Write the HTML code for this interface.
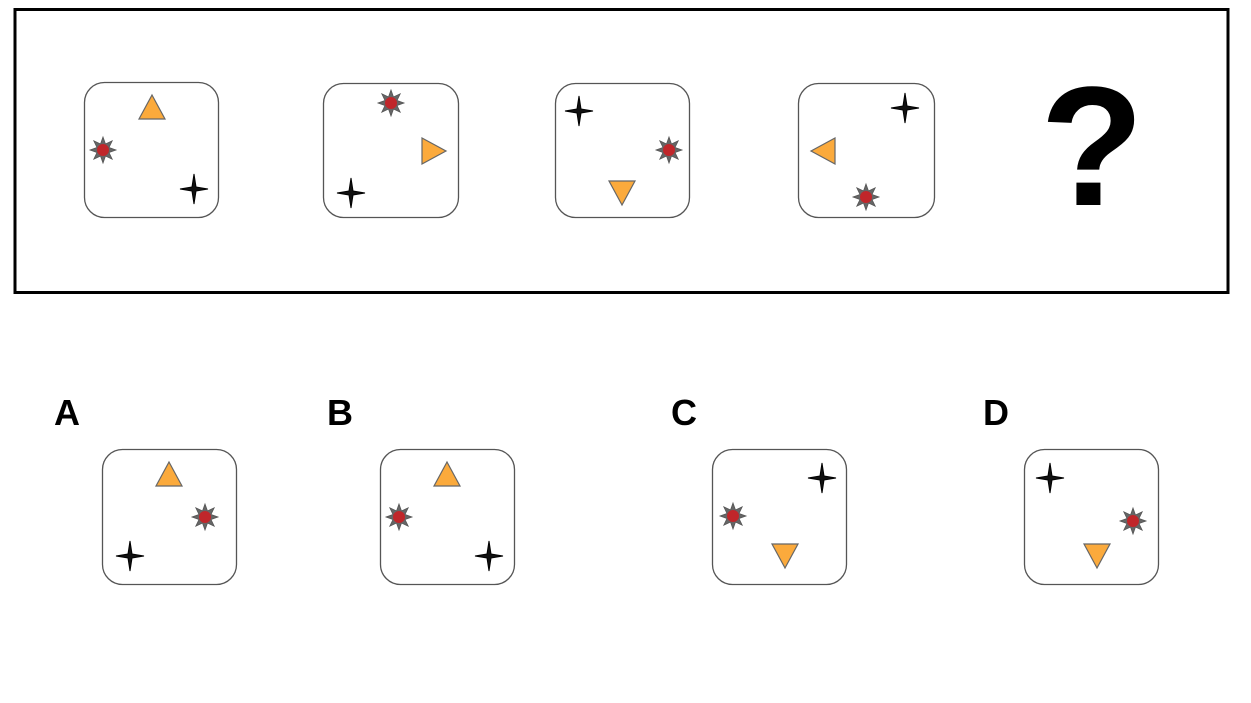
<!DOCTYPE html>
<html><head><style>body{margin:0;background:#fff}svg{display:block}</style></head><body>
<svg width="1251" height="703" xmlns="http://www.w3.org/2000/svg">
<defs>
<g id="s8"><polygon points="0,-13 2.5,-6 9.2,-9.2 6,-2.5 13,0 6,2.5 9.2,9.2 2.5,6 0,13 -2.5,6 -9.2,9.2 -6,2.5 -13,0 -6,-2.5 -9.2,-9.2 -2.5,-6" fill="#666" stroke="#555" stroke-width="0.8"/><circle r="6" fill="#c0262a"/></g>
<g id="s4"><polygon points="0,-15 2,-2 14,0 2,2 0,15 -2,2 -14,0 -2,-2" fill="#111" stroke="#000" stroke-width="1"/></g>
<g id="tu"><polygon points="0,-12 13,12 -13,12" fill="#fbaa3c" stroke="#666" stroke-width="1.2"/></g>
</defs>
<rect x="15" y="9.5" width="1213" height="283" fill="none" stroke="#000" stroke-width="3"/>
<g fill="#fff" stroke="#555" stroke-width="1.3">
<rect x="84.5" y="82.5" width="134" height="135" rx="20"/>
<rect x="323.5" y="83.5" width="135" height="134" rx="20"/>
<rect x="555.5" y="83.5" width="134" height="134" rx="20"/>
<rect x="798.5" y="83.5" width="136" height="134" rx="20"/>
<rect x="102.5" y="449.5" width="134" height="135" rx="20"/>
<rect x="380.5" y="449.5" width="134" height="135" rx="20"/>
<rect x="712.5" y="449.5" width="134" height="135" rx="20"/>
<rect x="1024.5" y="449.5" width="134" height="135" rx="20"/>
</g>
<use href="#tu" x="152" y="107"/><use href="#s8" x="103" y="150"/><use href="#s4" x="194" y="189"/>
<use href="#s8" x="391" y="103"/><use href="#tu" transform="translate(434,151) rotate(90)"/><use href="#s4" x="351" y="193"/>
<use href="#s4" x="579" y="111"/><use href="#s8" x="669" y="150"/><use href="#tu" transform="translate(622,193) rotate(180)"/>
<use href="#s4" x="905" y="108"/><use href="#tu" transform="translate(823,151) rotate(-90)"/><use href="#s8" x="866" y="197"/>
<text x="1092" y="205" font-family="Liberation Sans, sans-serif" font-weight="bold" font-size="170" text-anchor="middle">?</text>
<use href="#tu" x="169" y="474"/><use href="#s8" x="205" y="517"/><use href="#s4" x="130" y="556"/>
<use href="#tu" x="447" y="474"/><use href="#s8" x="399" y="517"/><use href="#s4" x="489" y="556"/>
<use href="#s4" x="822" y="478"/><use href="#s8" x="733" y="516"/><use href="#tu" transform="translate(785,556) rotate(180)"/>
<use href="#s4" x="1050" y="478"/><use href="#s8" x="1133" y="521"/><use href="#tu" transform="translate(1097,556) rotate(180)"/>
<g font-family="Liberation Sans, sans-serif" font-weight="bold" font-size="36">
<text x="54" y="425">A</text><text x="327" y="425">B</text><text x="671" y="425">C</text><text x="983" y="425">D</text>
</g>
</svg>
</body></html>
